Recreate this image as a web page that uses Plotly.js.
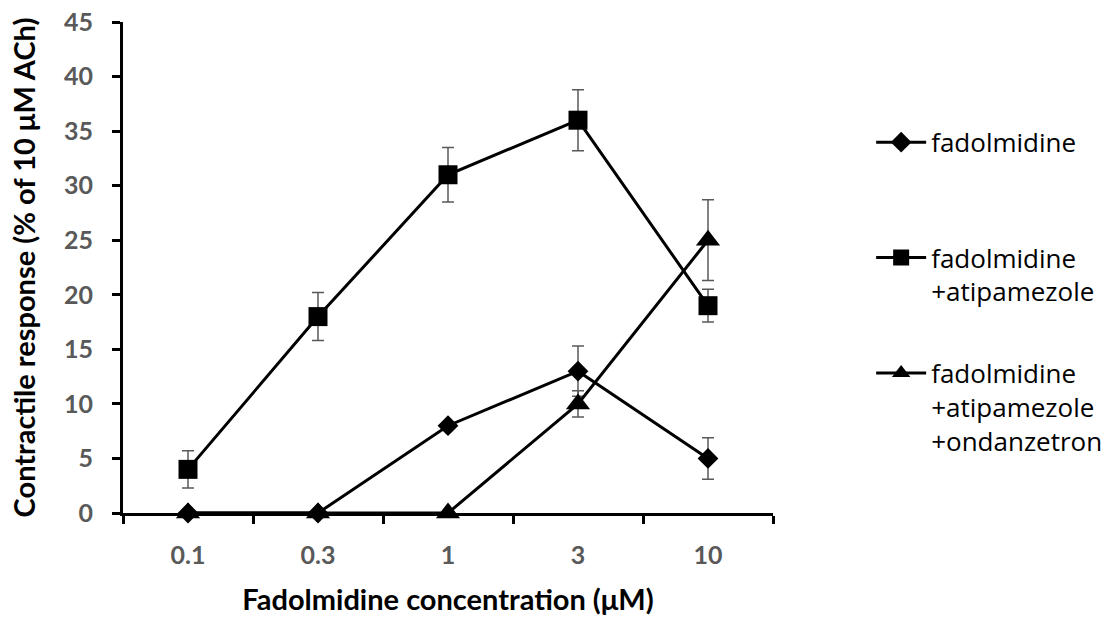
<!DOCTYPE html>
<html><head><meta charset="utf-8">
<script src="https://cdn.plot.ly/plotly-3.0.1.min.js"></script>
<style>body{margin:0;background:#fff}#c{width:1112px;height:621px}</style>
</head><body><div id="c"></div>
<script>
const categories = ['0.1','0.3','1','3','10'];
const fadolmidine = [0, 0, 8, 13, 5];
const fadolmidineErr = [0, 0, 0, 2.3, 1.9];
const withAtipamezole = [4, 18, 31, 36, 19];
const withAtipamezoleErr = [1.7, 2.2, 2.5, 2.8, 1.5];
const withOndanzetron = [0, 0, 0, 10, 25];
const withOndanzetronErr = [0, 0, 0, 1.2, 3.7];
const seriesNames = ['fadolmidine', 'fadolmidine<br>+atipamezole', 'fadolmidine<br>+atipamezole<br>+ondanzetron'];
const yTicks = [0,5,10,15,20,25,30,35,40,45];

const errStyle = {type:'data', visible:true, color:'#595959', thickness:1.5, width:6};
function tr(y, e, name, sym, size, lg){
  return {x:categories, y:y, name:name, type:'scatter', mode:'lines+markers',
    legend:lg, cliponaxis:false,
    line:{color:'#000', width:3},
    marker:{symbol:sym, size:size, color:'#000'},
    error_y:Object.assign({array:e}, errStyle)};
}
const data = [
  tr(fadolmidine, fadolmidineErr, seriesNames[0], 'diamond', 16, 'legend'),
  tr(withAtipamezole, withAtipamezoleErr, seriesNames[1], 'square', 19, 'legend2'),
  tr(withOndanzetron, withOndanzetronErr, seriesNames[2], 'triangle-up', 21, 'legend3')
];
const tickFont = {family:'Lato, sans-serif', size:25, color:'#595959'};
const titleFont = {family:'Lato, sans-serif', size:29, color:'#000'};
const legFont = {family:'"Open Sans", sans-serif', size:26, color:'#000'};
function leg(y){ return {x:1.151, y:y, xanchor:'left', yanchor:'top', valign:'top', itemwidth:50, font:legFont, bgcolor:'rgba(0,0,0,0)'}; }
const layout = {
  width:1112, height:621,
  margin:{l:123, r:339, t:22, b:108, autoexpand:false},
  paper_bgcolor:'#fff', plot_bgcolor:'#fff',
  showlegend:true,
  legend:leg(0.803), legend2:leg(0.568), legend3:leg(0.333),
  xaxis:{type:'category', range:[-0.5,4.5], tickson:'boundaries', automargin:false, layer:'below traces',
    tickmode:'array', tickvals:categories, ticktext:categories.map(c => '<b>' + c + '</b>'),
    ticks:'outside', ticklen:8, tickwidth:3, tickcolor:'#000',
    showline:true, linecolor:'#000', linewidth:3, showgrid:false, zeroline:false,
    tickfont:tickFont, ticklabelstandoff:18,
    title:{text:'<b>Fadolmidine concentration (μM)</b>', font:titleFont, standoff:22}},
  yaxis:{range:[0,45], tickmode:'array', tickvals:yTicks, ticktext:yTicks.map(v => '<b>' + v + '</b>'),
    automargin:false, layer:'below traces',
    ticks:'outside', ticklen:8, tickwidth:3, tickcolor:'#000',
    showline:true, linecolor:'#000', linewidth:3, showgrid:false, zeroline:false,
    tickfont:tickFont, ticklabelstandoff:14,
    title:{text:'<b>Contractile response (% of 10 μM ACh)</b>', font:titleFont, standoff:20}}
};
Plotly.newPlot('c', data, layout, {displayModeBar:false, staticPlot:true});
</script></body></html>
